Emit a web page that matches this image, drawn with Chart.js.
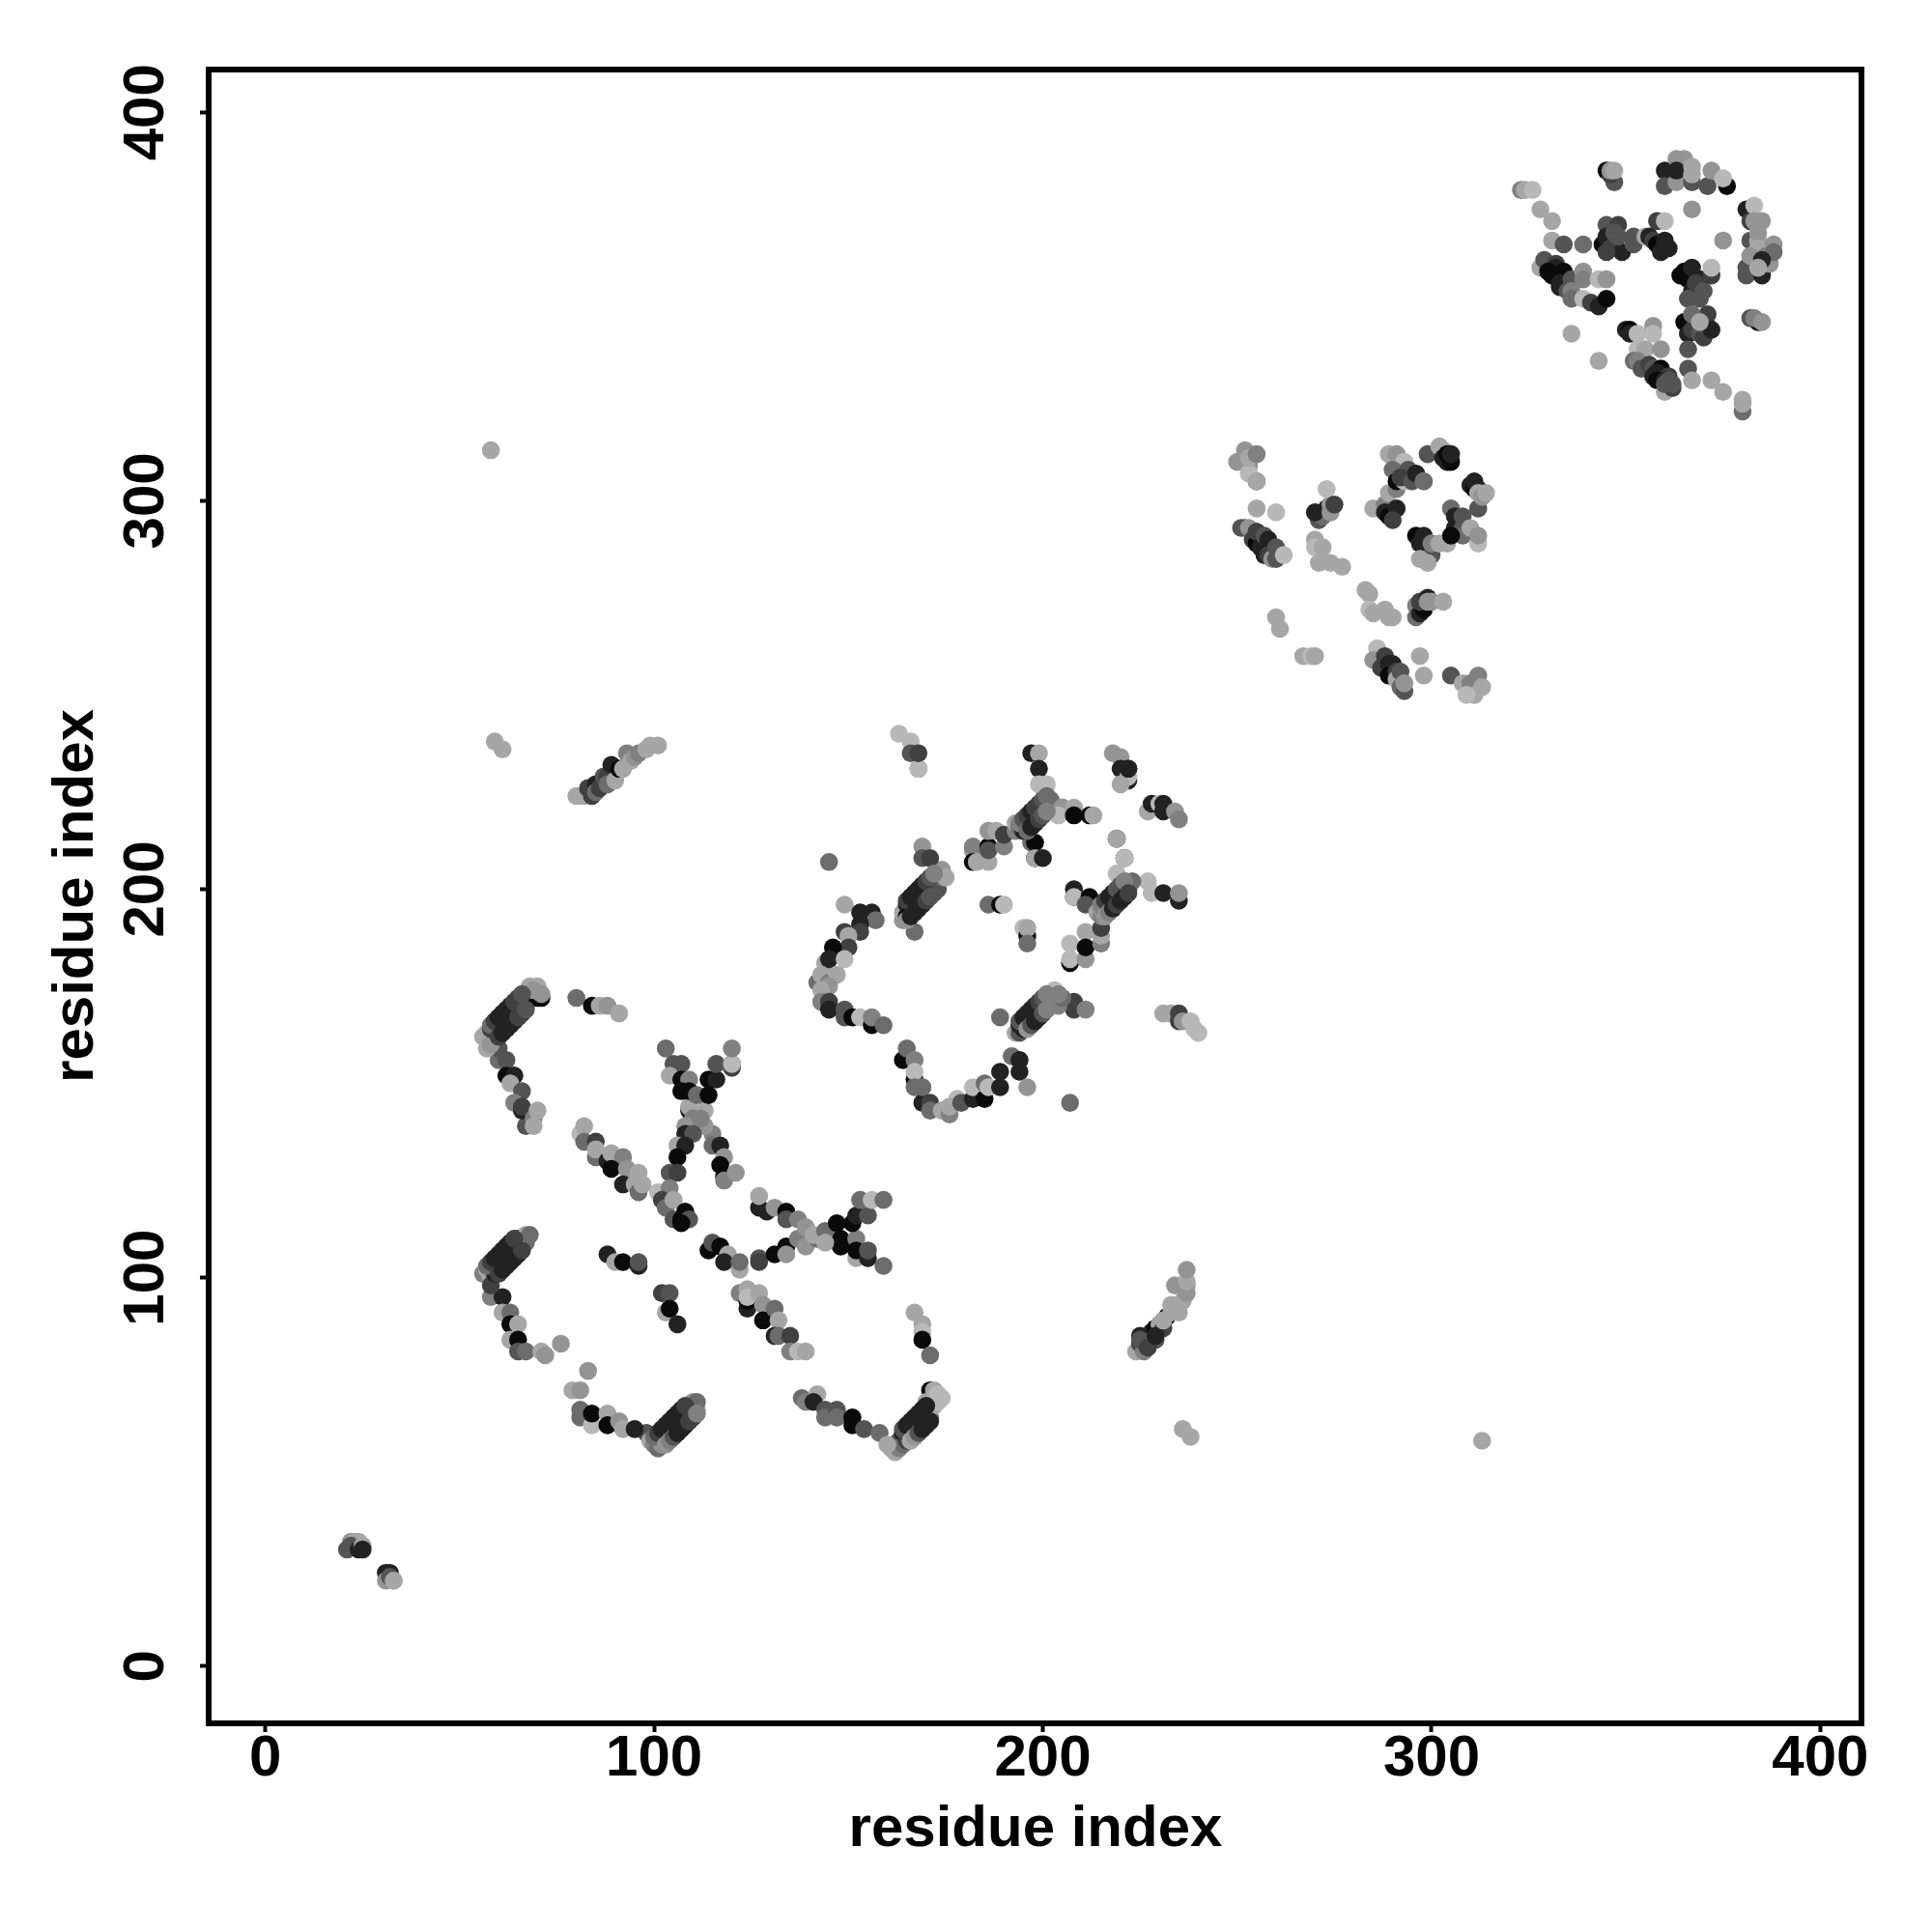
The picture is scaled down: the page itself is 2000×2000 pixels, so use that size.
<!DOCTYPE html>
<html>
<head>
<meta charset="utf-8">
<script src="https://cdn.jsdelivr.net/npm/chart.js@4"></script>
<style>
  html,body{margin:0;padding:0;background:#fff;}
  #wrap{width:2000px;height:2000px;}
</style>
</head>
<body>
<div id="wrap"><canvas id="map" width="2000" height="2000"></canvas></div>
<script>
// contact map. i/j = residue index, lv = grey step (0 darkest .. 8 palest)
const tickValues = [0,100,200,300,400];
const axisLabel = 'residue index';
const greySteps = [10,34,64,84,108,128,148,166,184];

// points sitting behind the thick bands
const backAI = [58,59,60,61,62,63,64,65,66,60,61,62,63,64,65,66,67];
const backAJ = [165,166,167,168,169,170,171,172,173,162,163,164,165,166,167,168,169];
const backAL = [4,2,1,1,1,1,2,2,3,2,1,1,1,1,2,2,3];
const backBI = [57,58,59,60,61,62,63,64,60,61,62,63,64,65,66];
const backBJ = [103,104,105,106,107,108,109,110,101,102,103,104,105,106,107];
const backBL = [4,2,1,1,1,1,1,2,2,1,1,1,1,1,2];
const backCI = [100,101,102,103,104,105,106,107,108,103,104,105,106,107,108,109,110,111];
const backCJ = [59,60,61,62,63,64,65,66,67,57,58,59,60,61,62,63,64,65];
const backCL = [4,2,1,1,1,1,1,1,2,6,5,3,1,1,1,2,2,5];
const backDI = [164,165,166,167,168,169,170,166,167,168,169,170,171];
const backDJ = [61,62,63,64,65,66,67,58,59,60,61,62,63];
const backDL = [3,1,1,1,1,1,1,7,6,3,1,1,1];
const backEI = [194,195,196,197,198,199,200,201,196,197,198,199,200,201];
const backEJ = [166,167,168,169,170,171,172,173,164,165,166,167,168,169];
const backEL = [3,1,1,1,1,2,3,5,6,3,1,1,3,5];
const backRI = [165,166,167,168,169,170,171,172,165,166,167,168,169,170,171];
const backRJ = [197,198,199,200,201,202,203,204,192,193,194,195,196,197,198];
const backRL = [2,1,1,1,1,2,3,5,6,1,1,1,1,2,3];
const backSI = [215,216,217,218,219,220,221,216,217,218,219,220,221,222];
const backSJ = [196,197,198,199,200,201,202,193,194,195,196,197,198,199];
const backSL = [5,2,1,1,3,3,5,6,5,1,2,1,1,2];
const backWI = [194,195,196,197,198,199,200,201,196,197,198,199,200,201];
const backWJ = [217,218,219,220,221,222,223,224,215,216,217,218,219,220];
const backWL = [5,3,2,1,2,2,3,4,4,1,1,2,3,5];

// short stretch bottom left
const nearI = [22,23,24,21,22,24,25,25,31,32,33,31,32,33];
const nearJ = [32,32,32,30,31,30,31,30,24,24,22,22,23,22];
const nearL = [6,7,7,3,3,1,7,1,1,1,6,6,3,7];

const arcAI = [56,57,57,58,58,59,60,60,61,61,62,62,63,63,64,64,65,65,66,66,67,67,68,68,69,70,71,68,70,69,71];
const arcAJ = [162,163,159,160,164,165,166,164,167,165,166,168,169,167,168,170,171,169,170,172,171,173,172,174,172,172,172,175,175,174,173];
const arcAL = [7,7,7,6,2,1,0,3,1,1,0,0,1,1,1,0,1,2,2,4,3,5,4,6,1,0,0,7,7,6,6];

const tailAI = [60,60,62,62,64,64,63,66,64,67,66,66,69,69,70];
const tailAJ = [156,159,156,152,152,152,150,148,145,139,143,144,141,139,143];
const tailAL = [4,3,3,0,1,1,7,3,5,3,1,2,5,7,7];

const shortAI = [80,84,86,88,91];
const shortAJ = [172,170,170,170,168];
const shortAL = [4,0,7,6,7];

const crossTopI = [103,105,107,104,107,109,107,109,111,114,114,116,116,120,120,120,120];
const crossTopJ = [159,155,155,152,151,151,148,148,147,151,147,151,155,154,155,155,159];
const crossTopL = [4,3,3,7,0,5,0,0,4,0,0,1,3,2,2,8,5];

const crossMidI = [109,109,113,110,113,108,108,110,106,108,106,104,106,104,102,103,105,105,108,107,109,107,112];
const crossMidJ = [143,144,143,141,139,139,137,137,134,134,131,127,127,123,120,118,120,115,117,115,115,114,141];
const crossMidL = [1,7,7,5,6,6,1,3,7,1,0,3,2,5,2,4,7,3,0,0,3,0,5];

const crossArmI = [115,115,117,118,117,118,118,121];
const crossArmJ = [137,134,134,131,129,126,125,127];
const crossArmL = [5,4,1,6,0,0,5,6];

const chainLeftI = [81,82,82,85,85,85,88,89,92,89,93,96,92,95,96,97,101];
const chainLeftJ = [137,139,135,135,131,133,130,132,131,128,128,127,124,124,122,124,122];
const chainLeftL = [8,7,4,2,4,7,1,7,5,0,6,7,1,7,4,7,8];

const xRightI = [127,127,129,131,134,134,137,139,142,141,144,144,147,151,152,155,153,156,159];
const xRightJ = [118,121,117,118,117,115,115,113,110,111,112,109,114,114,116,116,120,120,120];
const xRightL = [1,7,1,6,0,3,5,6,4,7,4,7,0,0,1,3,4,8,4];

const lowerLineI = [114,115,117,119,118,122,122,127,127,131,134,134,137,139,148,148,152,152,152,155,155,159];
const lowerLineJ = [107,109,108,106,104,102,104,105,104,106,108,106,110,108,110,108,110,105,107,105,107,103];
const lowerLineL = [0,3,0,7,1,7,4,3,2,0,0,6,5,6,0,0,5,7,0,1,3,4];

const arcBI = [56,57,58,58,58,59,59,60,60,61,61,62,62,63,63,64,64,65,65,66,67,67,68];
const arcBJ = [101,102,100,98,103,101,104,102,105,103,106,104,107,105,108,106,109,107,110,108,109,111,111];
const arcBL = [5,7,7,2,2,1,1,1,0,0,1,1,1,1,0,2,1,1,1,1,4,7,4];

const tailBI = [58,61,61,63,63,65,63,65,65,67,71,72,76];
const tailBJ = [95,95,91,91,88,88,84,84,81,81,81,80,83];
const tailBL = [5,1,7,4,0,7,7,0,3,4,7,6,6];

const midI = [88,90,92,96,96,102,104,103,104,106];
const midJ = [106,104,104,103,104,96,96,91,92,88];
const midL = [1,7,0,1,3,2,3,7,0,1];

const chainRightI = [122,124,124,124,124,127,128,128,131,132,131,132,135,135,137,139];
const chainRightJ = [96,97,92,94,95,96,93,89,92,89,85,85,85,81,81,81];
const chainRightL = [5,7,1,0,8,7,6,0,4,7,1,4,2,5,8,7];

const bottomAI = [83,79,81,81,81,84,84,88,88,91,92,95];
const bottomAJ = [76,71,71,66,64,62,65,65,62,63,61,61];
const bottomAL = [6,7,6,4,4,8,0,7,0,6,7,1];

const bandCI = [98,99,100,101,101,102,102,103,103,104,104,105,105,106,106,107,107,108,108,109,109,110,110,111,111];
const bandCJ = [60,58,57,56,59,57,60,58,61,59,62,60,63,61,64,62,65,63,66,64,67,65,68,66,68];
const bandCL = [3,7,5,4,2,6,1,3,0,2,0,1,1,1,0,1,1,1,1,1,1,5,6,7,4];

const bottomBI = [138,139,142,141,144,144,147,147,151,151,154,158,160];
const bottomBJ = [69,68,70,68,66,64,66,64,62,64,61,60,57];
const bottomBL = [4,5,7,1,3,4,3,4,0,0,3,4,7];

const bandDI = [161,162,163,163,164,164,165,165,166,166,167,167,168,168,169,169,170,170,171,171,171,170,172,172,173,173,174];
const bandDJ = [56,55,56,58,57,60,58,61,59,62,60,63,61,64,62,65,63,66,64,68,71,68,71,67,68,70,69];
const bandDL = [7,7,5,3,4,1,2,0,1,0,1,1,1,1,1,1,7,0,5,5,0,7,7,7,8,8,8];

const sideI = [167,169,169,169,171];
const sideJ = [91,88,86,84,80];
const sideL = [7,7,8,0,4];

const farBlobI = [224,225,226,225,227,228,229,229,230,231,232,233,234,235,236,237,237,225,227,229,231,233,234,237,237];
const farBlobJ = [81,83,81,85,84,86,84,87,88,87,90,91,92,91,94,96,98,84,82,85,89,93,98,99,102];
const farBlobL = [7,2,5,1,1,1,3,0,7,2,0,7,6,7,7,6,6,3,2,1,7,7,6,7,6];

const topFarI = [236,238,313];
const topFarJ = [61,59,58];
const topFarL = [7,7,7];

const diagLowI = [80,81,82,83,84,85,85,86,87,88,88,89,90,91,92,93,94,95,96,98,99,101];
const diagLowJ = [224,224,224,226,224,227,225,226,229,229,227,232,228,231,231,235,233,234,235,236,237,237];
const diagLowL = [7,7,7,2,2,1,4,2,3,2,4,1,7,0,7,5,7,6,5,7,7,7];

const strayI = [58,59,61];
const strayJ = [313,238,236];
const strayL = [7,7,7];

const topLeftI = [163,166,166,168,168,168];
const topLeftJ = [240,238,235,231,231,235];
const topLeftL = [8,8,3,5,8,2];

const topMidI = [197,199,199,199,201];
const topMidJ = [235,235,231,227,227];
const topMidL = [1,7,1,8,8];

const topRightI = [218,220,220,222,222,222,220,222];
const topRightJ = [235,234,231,228,231,229,227,231];
const topRightL = [6,6,1,1,1,8,7,1];

const cornerI = [227,228,230,231,231,234,235];
const cornerJ = [220,222,222,222,220,220,218];
const cornerL = [7,1,8,1,1,6,5];

const waveI = [193,193,194,195,195,196,196,197,197,198,198,199,199,200,201,202,205,205,204,208,208,212,213];
const waveJ = [215,217,216,217,215,216,218,219,217,220,218,219,221,220,223,223,221,221,219,221,219,219,219];
const waveL = [5,7,4,3,1,2,3,2,1,1,2,4,2,3,4,4,5,6,8,7,0,0,7];

const waveDropI = [197,198,198,198,200];
const waveDropJ = [212,212,208,208,208];
const waveDropL = [4,0,0,7,1];

const cupI = [182,182,182,183,186,186,186,186,188,190,190];
const cupJ = [210,211,207,207,207,211,210,215,215,211,214];
const cupL = [6,5,0,7,7,0,3,6,7,5,2];

const rampI = [164,164,165,165,166,166,167,167,168,168,169,170,170,171,172,172,173,173,174,174,175,169,169,171,167,145];
const rampJ = [192,194,193,196,194,197,195,198,196,199,197,198,200,199,201,199,202,200,203,205,203,211,208,208,189,207];
const rampL = [6,7,0,1,0,1,0,1,0,1,1,1,2,2,4,3,5,3,4,6,7,6,3,2,4,4];

const leftArcI = [149,153,156,157,153,153,149,150,150,146,144,145,149,142,143,145,147,144,145,143,143,145,145,149,149,151,153,156,156,159];
const leftArcJ = [196,194,194,192,191,189,189,188,185,185,181,182,182,176,178,176,178,174,175,174,171,171,169,169,167,167,167,165,167,165];
const leftArcL = [7,1,1,4,1,2,2,7,2,0,7,1,8,4,7,5,7,7,6,7,5,2,1,3,3,0,8,0,5,4];

const pairI = [186,189,190,195,196,196,196];
const pairJ = [196,196,196,190,188,190,186];
const pairL = [4,0,8,8,0,7,4];

const ringRightI = [208,208,208,212,211,214,215,215,216,216,217,217,218,218,219,219,219,219,220,220,221,221,222,221,223,219,221];
const ringRightJ = [198,200,198,198,196,194,193,195,194,196,195,197,196,198,197,199,213,213,198,200,199,208,200,202,202,204,208];
const ringRightL = [0,1,8,0,3,7,5,6,3,1,7,2,1,6,1,3,0,7,1,4,1,0,1,5,4,8,8];

const ringEdgeI = [227,228,231,235,235];
const ringEdgeJ = [202,199,199,197,199];
const ringEdgeL = [8,8,1,1,6];

const ringLowI = [207,207,207,211,211,211,215,215,215];
const ringLowJ = [181,182,186,182,189,185,186,188,190];
const ringLowL = [0,8,8,6,7,0,5,7,2];

const bandEI = [193,194,194,195,195,196,196,197,197,198,198,199,199,200,200,201,201,202,203,203,204,205,204,189];
const bandEJ = [163,163,165,164,166,165,167,166,168,167,169,168,170,169,171,170,172,171,172,174,170,172,173,167];
const bandEL = [7,3,1,1,0,0,1,1,0,1,0,2,1,3,3,6,4,5,6,8,5,4,5,4];

const bandEndI = [208,208,211,231,233,235,235,236,238,239,240];
const bandEndJ = [169,171,169,168,168,166,168,166,166,164,163];
const bandEndL = [2,2,5,7,7,2,2,6,8,8,8];

const lowArcI = [164,165,167,167,167,167,169,169,169,171,171,174,178,176,176,179,182,182,185,185,186,189,189,192,194,194,196,207];
const lowArcJ = [156,159,156,151,153,149,149,145,149,145,143,143,146,142,144,145,146,149,146,150,149,149,153,157,156,153,149,145];
const lowArcL = [0,4,5,0,8,4,4,1,4,2,4,7,8,5,7,3,1,8,0,4,8,1,1,4,1,1,6,4];

const gapAI = [250,252,253,253,253,255,255,255,260];
const gapAJ = [310,313,309,307,311,305,312,298,297];
const gapAL = [6,6,6,8,7,7,5,7,8];
const gapBI = [255];
const gapBJ = [305];
const gapBL = [3];

const rowI = [251,252,253,254,255,255,255,256,257,257,258,258,259,260,260,262];
const rowJ = [293,293,293,290,289,292,292,288,286,291,290,286,285,288,285,286];
const rowL = [3,3,6,2,0,3,2,1,1,3,1,2,6,3,3,8];

const knotI = [271,272,270,273,274,274,273,275];
const knotJ = [295,296,297,298,297,299,303,299];
const knotL = [3,4,1,1,6,6,8,2];

const paleI = [270,270,271,272,274,277];
const paleJ = [290,288,284,288,284,283];
const paleL = [7,8,7,7,7,7];

const ringTopI = [289,291,293,290,291,293,294,292,295,296,298,298,299,302,303,303,304,304,305,305];
const ringTopJ = [312,312,310,308,305,305,308,306,305,307,305,305,312,314,313,311,310,312,310,312];
const ringTopL = [7,6,8,4,0,8,3,2,3,1,7,4,3,7,7,1,1,0,0,1];

const ringSideI = [285,288,288,289,289,291,290,291,310,311,311,312,312,312,313,314];
const ringSideJ = [298,299,297,296,302,298,295,303,304,303,305,298,303,302,301,302];
const ringSideL = [7,5,1,0,7,1,2,5,1,0,1,3,1,7,6,7];

const ringBackI = [305,306,306,308,308,308,305,310,312,312];
const ringBackJ = [298,296,293,296,293,291,291,293,289,291];
const ringBackL = [4,1,1,3,3,4,0,7,8,6];

const ringBaseI = [296,297,298,300,300,302,297,299,304];
const ringBaseJ = [291,289,291,286,289,289,285,284,289];
const ringBaseL = [0,1,1,3,5,7,7,7,7];

const duoI = [283,284,284,285,288,290,289];
const duoJ = [277,276,272,271,272,270,270];
const duoL = [7,7,8,7,7,7,7];

const tiltI = [296,296,297,298,297,299,299,300,303];
const tiltJ = [273,270,271,272,274,275,274,274,274];
const tiltL = [5,4,1,0,2,1,6,6,7];

const dropsI = [260,261,267,269,270,297,298];
const dropsJ = [270,267,260,260,260,260,255];
const dropsL = [7,7,7,8,7,7,7];

const slopeI = [286,285,288,287,289,290,289,291,291,292,292,293,293];
const slopeJ = [262,259,260,257,258,258,255,256,254,256,252,251,253];
const slopeL = [8,6,2,2,1,1,0,2,7,3,4,3,6];

const endRowI = [305,308,310,312,313,311,309];
const endRowJ = [255,253,253,255,252,250,250];
const endRowL = [3,7,5,5,7,7,8];

const pathAI = [323,324,326,328,331,331,334,339];
const pathAJ = [380,380,380,375,372,367,366,366];
const pathAL = [5,7,8,7,7,7,3,4];

const pathBI = [345,348,344,345,346,347,349,348,345,352,352,355,356,357,358,358,359,359,361,360,360];
const pathBJ = [371,371,366,368,365,369,364,368,364,368,366,368,368,367,372,366,365,364,365,367,372];
const pathBL = [3,2,0,1,2,3,1,3,2,3,3,7,1,2,2,0,0,1,1,1,8];

const capI = [345,347,346,346,347];
const capJ = [385,382,384,385,385];
const capL = [0,3,2,6,7];

const crownI = [360,360,363,365,363,363,367,367,371,372,367,376,375];
const crownJ = [385,381,388,388,382,385,382,386,381,385,384,381,383];
const crownL = [1,3,6,6,6,1,3,7,3,6,7,0,8];

const oneI = [367,375];
const oneJ = [375,367];
const oneL = [6,6];

const edgeI = [381,381,382,382,382,382,385,384,385,385,383,383,384,384,386,387,388,388,381,382,385,384];
const edgeJ = [375,358,372,367,363,360,358,367,372,360,376,372,369,365,363,361,366,364,360,363,362,360];
const edgeL = [1,3,2,3,6,3,1,7,6,1,8,6,6,7,5,6,6,4,3,6,1,7];

const smallI = [382,384,383,385];
const smallJ = [347,346,347,346];
const smallL = [3,0,5,6];

const leftBlobI = [328,329,332,331,332,330,334,333,333,335,336,336,336,339,339,339,341,343,343,345,345];
const leftBlobJ = [360,362,361,358,360,359,359,356,355,354,357,354,352,359,357,352,351,350,357,352,357];
const leftBlobL = [7,3,2,0,1,0,0,1,1,3,3,5,4,6,5,8,2,1,8,0,6];

const floatI = [336,343];
const floatJ = [343,336];
const floatL = [7,7];

const lowBlobI = [350,351,351,353,357,357,353,355,359,352,353,354,356,357,357,359,358,358,361,360,360,362,362,361,360];
const lowBlobJ = [344,344,343,343,345,343,339,339,339,336,336,334,335,334,332,334,333,331,332,331,328,329,330,331,330];
const lowBlobL = [1,0,1,8,6,8,8,7,6,4,5,3,2,3,1,0,1,0,2,1,7,2,3,3,3];

const heartI = [364,365,366,367,367,366,366,369,369,368,370,372,372,366,369,365,366,367,369,370,371,371,372,367,369,366,366,367,372,375,380,380,380];
const heartJ = [358,359,357,360,354,352,343,357,355,356,354,358,360,352,352,346,343,344,343,342,345,348,344,348,346,339,334,331,331,328,323,325,326];
const heartL = [0,0,0,1,1,3,1,1,1,2,3,2,8,3,3,0,1,2,3,2,3,2,1,4,7,3,3,7,7,7,4,7,7];

const groups = [
  [backAI,backAJ,backAL],[backBI,backBJ,backBL],[backCI,backCJ,backCL],[backDI,backDJ,backDL],
  [backEI,backEJ,backEL],[backRI,backRJ,backRL],[backSI,backSJ,backSL],[backWI,backWJ,backWL],
  [nearI,nearJ,nearL],[arcAI,arcAJ,arcAL],[tailAI,tailAJ,tailAL],[shortAI,shortAJ,shortAL],
  [crossTopI,crossTopJ,crossTopL],[crossMidI,crossMidJ,crossMidL],[crossArmI,crossArmJ,crossArmL],
  [chainLeftI,chainLeftJ,chainLeftL],[xRightI,xRightJ,xRightL],[lowerLineI,lowerLineJ,lowerLineL],
  [arcBI,arcBJ,arcBL],[tailBI,tailBJ,tailBL],[midI,midJ,midL],[chainRightI,chainRightJ,chainRightL],
  [bottomAI,bottomAJ,bottomAL],[bandCI,bandCJ,bandCL],[bottomBI,bottomBJ,bottomBL],[bandDI,bandDJ,bandDL],
  [sideI,sideJ,sideL],[farBlobI,farBlobJ,farBlobL],[topFarI,topFarJ,topFarL],[diagLowI,diagLowJ,diagLowL],
  [strayI,strayJ,strayL],[topLeftI,topLeftJ,topLeftL],[topMidI,topMidJ,topMidL],[topRightI,topRightJ,topRightL],
  [cornerI,cornerJ,cornerL],[waveI,waveJ,waveL],[waveDropI,waveDropJ,waveDropL],[cupI,cupJ,cupL],
  [rampI,rampJ,rampL],[leftArcI,leftArcJ,leftArcL],[pairI,pairJ,pairL],[ringRightI,ringRightJ,ringRightL],
  [ringEdgeI,ringEdgeJ,ringEdgeL],[ringLowI,ringLowJ,ringLowL],[bandEI,bandEJ,bandEL],[bandEndI,bandEndJ,bandEndL],
  [lowArcI,lowArcJ,lowArcL],[gapAI,gapAJ,gapAL],[gapBI,gapBJ,gapBL],[rowI,rowJ,rowL],[knotI,knotJ,knotL],
  [paleI,paleJ,paleL],[ringTopI,ringTopJ,ringTopL],[ringSideI,ringSideJ,ringSideL],[ringBackI,ringBackJ,ringBackL],
  [ringBaseI,ringBaseJ,ringBaseL],[duoI,duoJ,duoL],[tiltI,tiltJ,tiltL],[dropsI,dropsJ,dropsL],[slopeI,slopeJ,slopeL],
  [endRowI,endRowJ,endRowL],[pathAI,pathAJ,pathAL],[pathBI,pathBJ,pathBL],[capI,capJ,capL],[crownI,crownJ,crownL],
  [oneI,oneJ,oneL],[edgeI,edgeJ,edgeL],[smallI,smallJ,smallL],[leftBlobI,leftBlobJ,leftBlobL],[floatI,floatJ,floatL],
  [lowBlobI,lowBlobJ,lowBlobL],[heartI,heartJ,heartL]
];

const grey = (lv)=>{ const g=greySteps[lv]; return `rgb(${g},${g},${g})`; };
const datasets = groups.map(([is,js,ls])=>({
  data: is.map((v,k)=>({x:v,y:js[k]})),
  backgroundColor: ls.map(grey),
  pointBackgroundColor: ls.map(grey),
  pointBorderWidth: 0,
  pointRadius: 9.3
}));

const labelFont = {family:'"Liberation Sans", Arial, sans-serif', size:60, weight:'bold'};
const onlyTicks = (s)=>{ s.ticks = tickValues.map(v=>({value:v,label:String(v)})); };

// box round the plot
const frame = {
  id:'frame',
  afterDatasetsDraw(c){
    const {ctx,chartArea:a}=c;
    ctx.save();
    ctx.lineWidth=6; ctx.strokeStyle='#000';
    ctx.strokeRect(a.left-1,a.top,a.right-a.left+1,a.bottom-a.top+1);
    ctx.restore();
  }
};

new Chart(document.getElementById('map'),{
  type:'scatter',
  data:{datasets},
  options:{
    responsive:false, animation:false,
    layout:{padding:{top:72,right:73,left:0,bottom:0}},
    plugins:{legend:{display:false},tooltip:{enabled:false}},
    scales:{
      x:{
        type:'linear', min:-14.35, max:410.6,
        afterFit(s){ s.height=217; },
        afterBuildTicks:onlyTicks,
        grid:{drawOnChartArea:false,tickLength:10,tickWidth:4,tickColor:'#000'},
        border:{display:false},
        ticks:{color:'#000',font:labelFont,padding:-8,maxRotation:0,minRotation:0,autoSkip:false,callback:(v)=>String(v)},
        title:{display:true,text:axisLabel,color:'#000',font:labelFont,padding:{top:0,bottom:70}}
      },
      y:{
        type:'linear', min:-14.5, max:411,
        afterFit(s){ s.width=217; },
        afterBuildTicks:onlyTicks,
        grid:{drawOnChartArea:false,tickLength:10,tickWidth:4,tickColor:'#000'},
        border:{display:false},
        ticks:{color:'#000',font:labelFont,padding:4,minRotation:90,maxRotation:90,crossAlign:'center',autoSkip:false,callback:(v)=>String(v)},
        title:{display:true,text:axisLabel,color:'#000',font:labelFont,padding:{top:43,bottom:0}}
      }
    }
  },
  plugins:[frame]
});
</script>
</body>
</html>
